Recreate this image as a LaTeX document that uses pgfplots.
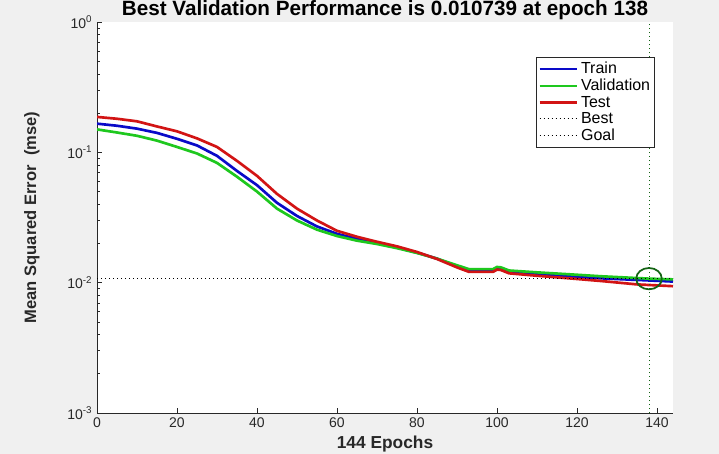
\documentclass[border=0pt]{standalone}
\usepackage{fontspec}
\setmainfont{Liberation Sans}
\usepackage{pgfplots}
\pgfplotsset{compat=1.18}
\definecolor{bg}{RGB}{240,240,240}
\definecolor{trainc}{RGB}{10,10,200}
\definecolor{valc}{RGB}{30,200,30}
\definecolor{testc}{RGB}{210,20,20}
\definecolor{bestc}{RGB}{20,100,20}
\definecolor{axc}{RGB}{40,40,40}
\begin{document}
\begin{tikzpicture}
\path[use as bounding box, fill=bg] (0,0) rectangle (539.25pt,340.5pt);
\begin{axis}[
  at={(72.75pt,30.75pt)}, anchor=south west,
  scale only axis, width=432pt, height=293.25pt,
  ymode=log, xmin=0, xmax=144, ymin=1e-3, ymax=1,
  axis x line*=bottom, axis y line*=left,
  axis line style={axc, line width=0.6pt},
  axis background/.style={fill=white},
  tick align=inside,
  major tick length=3.5pt, minor tick length=2pt,
  tick style={axc, line width=0.5pt},
  xtick={0,20,...,140},
  ytick={0.001,0.01,0.1,1},
  yticklabels={10\textsuperscript{-3},10\textsuperscript{-2},10\textsuperscript{-1},10\textsuperscript{0}},
  /pgf/number format/assume math mode=true,
  ticklabel style={font=\fontsize{10.5}{12}\selectfont, text=axc},
  every axis title shift=0pt,
  title={Best Validation Performance is 0.010739 at epoch 138},
  title style={font=\fontsize{15.5}{17}\selectfont\bfseries,
    at={(axis description cs:0.5,1.03)}, anchor=center},
  xlabel={144 Epochs},
  ylabel={Mean Squared Error\ \ (mse)},
  xlabel style={font=\fontsize{13}{15}\selectfont\bfseries, text=axc,
    at={(axis description cs:0.5,-0.079)}, anchor=center},
  ylabel style={font=\fontsize{12.4}{14}\selectfont\bfseries, text=axc,
    at={(axis description cs:-0.113,0.5)}, anchor=center},
  legend style={at={(0.969,0.910)}, anchor=north east, draw=axc, line width=0.5pt,
    font=\fontsize{12}{13.5}\selectfont, inner sep=1.5pt, row sep=-1.5pt,
    cells={anchor=west}},
  legend image code/.code={\draw[#1] (0pt,0pt) -- (28pt,0pt);},
]
\addplot[trainc, line width=2pt] coordinates {
 (0,0.166) (5,0.160) (10,0.152) (15,0.141) (20,0.127) (25,0.113) (30,0.094)
 (35,0.072) (40,0.056) (45,0.041) (50,0.0325) (55,0.0270) (60,0.0237)
 (65,0.0217) (70,0.0201) (75,0.0186) (80,0.0170) (85,0.0153) (90,0.0133)
 (93,0.0123) (99,0.0122) (100,0.0127) (101,0.0126) (103,0.0120) (110,0.0116)
 (118,0.0112) (126,0.0108) (138,0.0104) (144,0.0102)
};
\addlegendentry{Train}
\addplot[valc, line width=2pt] coordinates {
 (0,0.150) (5,0.142) (10,0.134) (15,0.123) (20,0.110) (25,0.098) (30,0.083)
 (35,0.065) (40,0.050) (45,0.037) (50,0.0300) (55,0.0255) (60,0.0228)
 (65,0.0210) (70,0.0198) (75,0.0184) (80,0.0169) (85,0.0153) (90,0.0136)
 (93,0.0127) (99,0.0127) (100,0.0132) (101,0.0131) (103,0.0124) (110,0.0120)
 (118,0.0116) (126,0.0112) (138,0.010739) (144,0.0106)
};
\addlegendentry{Validation}
\addplot[testc, line width=2pt] coordinates {
 (0,0.187) (5,0.181) (10,0.173) (15,0.158) (20,0.145) (25,0.128) (30,0.110)
 (35,0.086) (40,0.066) (45,0.048) (50,0.037) (55,0.030) (60,0.0250)
 (65,0.0225) (70,0.0206) (75,0.0190) (80,0.0172) (85,0.0152) (90,0.0131)
 (93,0.0121) (99,0.0121) (100,0.0126) (101,0.0125) (103,0.0118) (110,0.0113)
 (118,0.0108) (126,0.0103) (135,0.0097) (144,0.0094)
};
\addlegendentry{Test}
\addplot[black, line width=0.7pt, dash pattern=on 0.7pt off 2.3pt] coordinates {(0,0.010739) (144,0.010739)};
\addlegendentry{Best}
\addlegendimage{black, line width=0.7pt, dash pattern=on 0.7pt off 2.3pt}
\addlegendentry{Goal}
\addplot[bestc, line width=0.7pt, dash pattern=on 0.7pt off 2.3pt, forget plot] coordinates {(138,0.001) (138,1)};
\addplot[bestc, only marks, mark=o, mark size=8pt, mark options={xscale=1.2, line width=1.3pt}, forget plot] coordinates {(138,0.010739)};
\end{axis}
\end{tikzpicture}
\end{document}
